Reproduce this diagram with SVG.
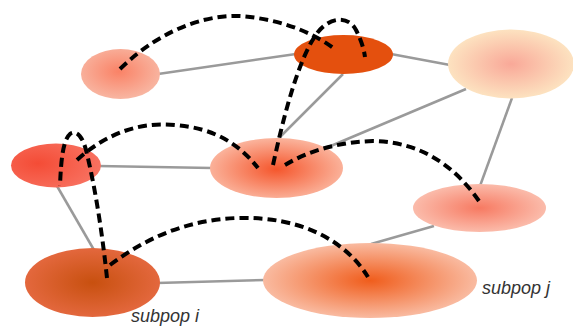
<svg xmlns="http://www.w3.org/2000/svg" width="573" height="327" viewBox="0 0 573 327">
<defs>
<radialGradient id="gA" cx="0.48" cy="0.45" r="0.55"><stop offset="0" stop-color="#fa8266"/><stop offset="1" stop-color="#f8b6a2"/></radialGradient>
<radialGradient id="gC" cx="0.5" cy="0.5" r="0.55"><stop offset="0" stop-color="#f9a898"/><stop offset="1" stop-color="#fde8c4"/></radialGradient>
<radialGradient id="gD" cx="0.3" cy="0.45" r="0.7"><stop offset="0" stop-color="#f44c36"/><stop offset="1" stop-color="#f87160"/></radialGradient>
<radialGradient id="gE" cx="0.5" cy="0.52" r="0.55"><stop offset="0" stop-color="#f5562c"/><stop offset="1" stop-color="#fbbaa4"/></radialGradient>
<radialGradient id="gF" cx="0.5" cy="0.5" r="0.55"><stop offset="0" stop-color="#f77a62"/><stop offset="1" stop-color="#fbc2b2"/></radialGradient>
<radialGradient id="gG" cx="0.5" cy="0.5" r="0.55"><stop offset="0" stop-color="#c8500f"/><stop offset="1" stop-color="#e66a42"/></radialGradient>
<radialGradient id="gH" cx="0.5" cy="0.5" r="0.55"><stop offset="0" stop-color="#f05d1c"/><stop offset="1" stop-color="#fac4ae"/></radialGradient>
</defs>
<style>
.edge{stroke:#9a9a9a;stroke-width:2.5;fill:none}
.mig{stroke:#000;stroke-width:4;stroke-dasharray:9 5;fill:none}
.lbl{font-family:"Liberation Sans",Arial,sans-serif;font-style:italic;font-size:18px;fill:#333}
</style>
<g id="edges">
<line class="edge" x1="158" y1="74" x2="296" y2="54"/>
<line class="edge" x1="391" y1="54" x2="450" y2="65"/>
<line class="edge" x1="343" y1="74" x2="277" y2="140"/>
<line class="edge" x1="466" y1="89" x2="326" y2="148"/>
<line class="edge" x1="512" y1="98" x2="480" y2="186"/>
<line class="edge" x1="98" y1="166" x2="212" y2="168"/>
<line class="edge" x1="57" y1="186" x2="94" y2="250"/>
<line class="edge" x1="157" y1="283" x2="266" y2="280" stroke="#8393a3"/>
<line class="edge" x1="371" y1="244" x2="434" y2="226"/>
</g>
<g id="nodeA"><ellipse cx="120.5" cy="74" rx="39.5" ry="25" fill="url(#gA)"/></g>
<g id="nodeB"><ellipse cx="343.5" cy="54.5" rx="49.5" ry="19.5" fill="#e4500e"/></g>
<g id="nodeC"><ellipse cx="511" cy="64" rx="63" ry="34.5" fill="url(#gC)"/></g>
<g id="nodeD"><ellipse cx="56" cy="165.5" rx="45" ry="22" fill="url(#gD)"/></g>
<g id="nodeE"><ellipse cx="276.5" cy="168" rx="66.5" ry="30" fill="url(#gE)"/></g>
<g id="nodeF"><ellipse cx="479.5" cy="208" rx="66.5" ry="24" fill="url(#gF)"/></g>
<g id="nodeG"><ellipse cx="92.5" cy="282.5" rx="67.5" ry="34.5" fill="url(#gG)"/><text class="lbl" x="131" y="322">subpop i</text></g>
<g id="nodeH"><ellipse cx="370" cy="280.5" rx="107" ry="37.5" fill="url(#gH)"/><text class="lbl" x="482" y="294">subpop j</text></g>
<g id="migrations">
<path class="mig" d="M120,69 C165,25 215,12 250,17 C290,22 318,36 336,50"/>
<path class="mig" d="M273,165 C285,110 300,55 318,32 C330,17 348,15 356,30 C362,42 364,50 365,57"/>
<path class="mig" d="M107,278 C103,240 96,190 86,150 C82,135 76,130 70,134 C63,140 61,160 60,186"/>
<path class="mig" d="M77,160 C110,130 145,122 175,125 C215,128 240,145 258,168"/>
<path class="mig" d="M285,165 C310,150 340,142 373,141 C420,142 455,165 481,204"/>
<path class="mig" d="M110,265 C150,235 190,220 237,218 C300,216 345,240 368,277"/>
</g>
</svg>
